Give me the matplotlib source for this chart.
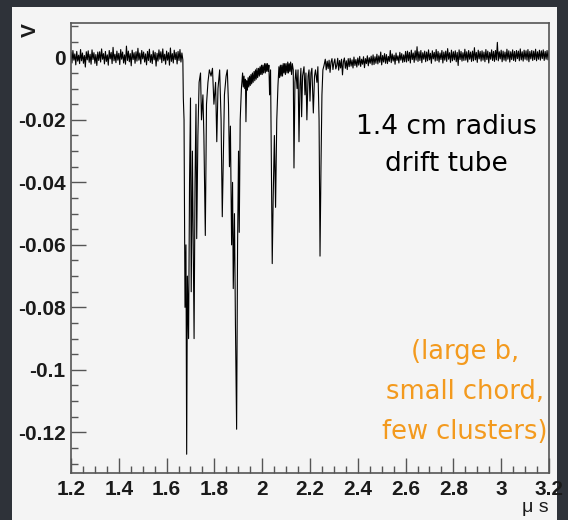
import numpy as np
import matplotlib.pyplot as plt
from matplotlib.patches import Rectangle
from matplotlib.ticker import MultipleLocator, FormatStrFormatter

plt.rcParams['axes.unicode_minus'] = False
plt.rcParams['font.family'] = ['Liberation Sans', 'DejaVu Sans']

# scope trace, values in mV
# baseline before the first cluster (every 4 ns from 1.200 to 1.668 us)
v_pre = [1.6, -1.8, 2.2, -0.9, 1.1, -2.4, 1.9, -1.2, 0.7, -2.0,
         2.5, -1.1, 1.4, -1.9, 0.6, -3.1, 1.8, -0.8, 2.1, -1.6,
         1.0, -2.2, 2.4, -0.7, 1.5, -1.9, 0.9, -2.6, 1.7, -1.0,
         1.8, -1.5, 2.7, -0.6, 1.2, -2.1, 1.9, -1.3, 0.8, -2.5,
         2.2, -0.5, 1.6, -2.0, 3.2, -1.1, 1.0, -1.7, 2.0, -0.9,
         1.3, -2.3, 2.5, -0.6, 1.7, -1.8, 0.8, -2.2, 3.6, -1.0,
         2.0, -1.4, 1.2, -2.7, 2.3, -0.7, 1.5, -1.9, 1.8, -1.2,
         2.9, -0.9, 1.4, -2.1, 2.2, -0.5, 1.7, -1.5, 1.1, -2.4,
         1.9, -1.0, 2.6, -1.6, 0.9, -2.0, 2.1, -0.8, 1.6, -2.8,
         1.3, -1.2, 2.4, -0.6, 1.8, -1.7, 2.7, -1.1, 1.0, -2.2,
         2.0, -0.9, 1.5, -2.5, 3.0, -1.3, 1.2, -1.8, 2.3, -0.7,
         1.6, -2.1, 1.9, -1.0, 2.5, -1.5, 1.4, -0.8]

# cluster pulses: (time in us, voltage in mV)
pulse_pts = [
    (1.670, -13), (1.673, -20), (1.677, -80), (1.681, -60), (1.684, -127),
    (1.687, -70), (1.692, -90), (1.696, -40), (1.700, -13), (1.703, -75),
    (1.708, -30), (1.715, -90), (1.719, -40), (1.723, -15), (1.726, -58),
    (1.731, -25), (1.736, -8), (1.742, -5), (1.746, -20), (1.752, -12),
    (1.756, -25), (1.762, -57), (1.767, -15), (1.773, -8), (1.779, -4),
    (1.786, -6), (1.792, -3.5), (1.798, -15), (1.805, -8), (1.810, -27),
    (1.815, -10), (1.822, -4), (1.828, -20), (1.833, -51), (1.838, -30),
    (1.842, -12), (1.849, -6), (1.854, -4), (1.859, -15), (1.863, -35),
    (1.867, -22), (1.872, -60), (1.876, -40), (1.879, -74), (1.884, -50),
    (1.888, -85), (1.893, -119), (1.897, -60), (1.901, -30), (1.904, -56),
    (1.908, -20), (1.913, -10),
    # slow recovery between the two groups
    (1.918, -5), (1.921, -9.5), (1.924, -6), (1.927, -10), (1.930, -7),
    (1.932, -20.6), (1.935, -7.5), (1.938, -10.5), (1.941, -6.5), (1.944, -9.5),
    (1.947, -6), (1.950, -9), (1.953, -5.5), (1.956, -8.5), (1.959, -5),
    (1.962, -8), (1.966, -4.5), (1.969, -7.5), (1.972, -4), (1.975, -7),
    (1.978, -3.5), (1.981, -6.5), (1.985, -3.5), (1.988, -6), (1.991, -3),
    (1.994, -5.5), (1.997, -2.5), (2.000, -5.5), (2.003, -2.5), (2.006, -5),
    (2.010, -2), (2.013, -5), (2.016, -2), (2.019, -4.5), (2.022, -2),
    (2.025, -4.5), (2.028, -2.5), (2.031, -12), (2.035, -4),
    # second group
    (2.038, -30), (2.042, -66), (2.046, -45), (2.051, -25), (2.056, -48),
    (2.061, -20), (2.066, -9), (2.070, -3), (2.073, -6.5), (2.076, -2.5),
    (2.079, -6), (2.082, -2.5), (2.085, -6), (2.088, -2), (2.091, -5),
    (2.094, -2), (2.097, -5.5), (2.100, -2), (2.104, -5), (2.107, -1.5),
    (2.110, -5), (2.113, -2), (2.116, -4.5), (2.119, -1.5), (2.123, -5.5),
    (2.126, -2), (2.130, -4),
    (2.133, -35.4), (2.137, -8), (2.141, -4), (2.146, -10), (2.150, -4),
    (2.154, -27), (2.158, -9), (2.162, -3.5), (2.165, -19), (2.169, -6),
    (2.175, -3), (2.179, -12), (2.183, -5), (2.187, -20), (2.192, -6),
    (2.196, -4), (2.200, -14), (2.204, -5), (2.208, -3.5), (2.214, -17.8),
    (2.219, -6), (2.223, -4), (2.229, -8), (2.233, -3), (2.238, -20),
    (2.242, -63.6), (2.246, -35), (2.250, -12), (2.254, -4), (2.259, -2.5),
]

# recovering baseline after the last cluster (every 4 ns from 2.264 to 3.200 us)
v_post = [-0.6, -4.0, -1.2, -3.6, -0.9, -4.8, -1.5, -0.4, -3.9, -1.8,
          -0.5, -3.7, -2.6, -0.3, -4.1, -1.0, -3.4, -0.6, -5.6, -1.3,
          -0.2, -3.5, -1.1, -3.9, -0.4,
          -3.0, -0.3, -2.8, -0.8, -3.4, 0.1, -2.6, -0.7, -3.1, -0.2,
          -2.5, 0.3, -2.9, -0.6, -2.2, 0.2, -3.3, -0.4, -2.0, 0.5,
          -2.7, -0.1, -1.9, 0.4, -2.4,
          0.8, -2.3, 0.2, -1.9, 1.0, -2.1, 0.5, -1.6, 1.7, -2.4,
          0.6, -1.5, 1.2, -1.9, 0.9, -2.0, 0.3, -1.3, 2.2, -1.7,
          1.1, -1.2, 0.7, -2.2, 1.4, -1.0, 0.5, -1.8, 1.6, -0.9,
          1.2, -1.6, 0.8, -1.4, 1.9,
          -1.5, 2.0, -1.1, 1.6, -1.8, 2.3, -0.7, 1.4, -1.6, 2.1,
          -0.9, 3.4, -1.3, 1.8, -1.0, 2.2, -1.7, 1.5, -0.6, 2.0,
          -1.4, 1.7, -1.1, 2.4, -0.8, 1.3, -1.9, 2.1, -0.5, 1.6,
          -1.2, 2.5, -1.0, 1.9, -1.5, 1.4, -0.7, 2.2, -1.8, 1.7,
          -0.9, 2.0, -1.3, 2.8, -0.6, 1.5, -1.6, 2.3, -1.1, 1.8,
          -0.8, 2.1, -1.4, 1.6, -2.6, 2.4, -0.7, 1.9, -1.2, 1.5,
          -1.0, 2.6, -0.9, 1.8, -1.5, 2.2, -0.6, 1.7, -1.3, 2.0,
          -1.1, 3.1, -0.8, 1.6, -1.6, 2.3, -0.5, 1.9, -1.2, 2.1,
          -0.9, 1.7, -1.4, 2.5, -0.7, 2.0, -1.8, 1.6, -0.6, 2.4,
          -1.0, 1.9, -1.3, 2.2, -0.8, 4.8, -1.1, 1.8, -0.5, 2.3,
          -1.4, 2.0, -0.9, 1.7, -1.2, 2.6, -0.6, 2.1, -1.5, 1.8,
          -0.7, 2.4, -1.0, 1.9, -1.3, 2.2, -0.4, 2.0, -1.1, 2.7,
          -0.8, 1.8, -1.2, 2.3, -0.6, 2.1, -0.9, 2.5, -1.4, 1.9,
          -0.5, 2.2, -1.0, 2.0, -0.7, 2.6, -1.1, 1.8, -0.6, 2.3,
          -0.9, 2.1, -0.4, 2.4, -1.0, 1.9, -0.6, 2.2, -0.8, 2.0]

t_pre = np.linspace(1.200, 1.668, len(v_pre))
t_post = np.linspace(2.264, 3.200, len(v_post))
t_pulse = [p[0] for p in pulse_pts]
v_pulse = [p[1] for p in pulse_pts]

t = np.concatenate([t_pre, t_pulse, t_post])
v = np.concatenate([v_pre, v_pulse, v_post]) / 1000.0

xticks = [1.2, 1.4, 1.6, 1.8, 2.0, 2.2, 2.4, 2.6, 2.8, 3.0, 3.2]
yticks = [0, -0.02, -0.04, -0.06, -0.08, -0.1, -0.12]

fig = plt.figure(figsize=(5.68, 5.2), dpi=100, facecolor='#2e3239')
# light slide panel behind the plot
fig.patches.append(Rectangle((12 / 568, 0), (557 - 12) / 568, (520 - 7) / 520,
                             transform=fig.transFigure, facecolor='#f4f4f4',
                             edgecolor='none', zorder=-10))

ax = fig.add_axes([0.125, 0.0904, 0.8415, 0.8654], facecolor='#f4f4f4')
ax.plot(t, v, color='black', lw=0.8)

ax.set_xlim(1.2, 3.2)
ax.set_ylim(-0.133, 0.011)

ax.set_xticks(xticks)
ax.set_yticks(yticks)
ax.xaxis.set_minor_locator(MultipleLocator(0.05))
ax.yaxis.set_minor_locator(MultipleLocator(0.005))
ax.xaxis.set_major_formatter(FormatStrFormatter('%g'))
ax.yaxis.set_major_formatter(FormatStrFormatter('%g'))

ax.tick_params(which='both', direction='in', color='#555555', width=1.0,
               top=False, right=False, labelsize=15, labelcolor='#1a1a1a', pad=4)
ax.tick_params(which='major', length=11)
ax.tick_params(which='minor', length=5)
ax.tick_params(axis='x', pad=5)
for lab in ax.get_xticklabels() + ax.get_yticklabels():
    lab.set_fontweight('bold')

for s in ax.spines.values():
    s.set_color('#555555')
    s.set_linewidth(1.2)

ax.text(-0.085, 1.0, 'V', transform=ax.transAxes, rotation=90,
        fontsize=15, fontweight='bold', ha='center', va='top', color='#1a1a1a')
ax.text(1.0, -0.058, 'μ s', transform=ax.transAxes, fontsize=14,
        ha='right', va='top', color='#1a1a1a')

ax.text(0.785, 0.728, '1.4 cm radius\ndrift tube', transform=ax.transAxes,
        family='DejaVu Sans', fontsize=19, ha='center', va='center',
        linespacing=1.55, color='black')
ax.text(0.824, 0.18, '(large b,\nsmall chord,\nfew clusters)', transform=ax.transAxes,
        family='DejaVu Sans', fontsize=18.5, ha='center', va='center',
        linespacing=1.72, color='#f39a1e')

fig.savefig('out.png', dpi=100, facecolor=fig.get_facecolor())
